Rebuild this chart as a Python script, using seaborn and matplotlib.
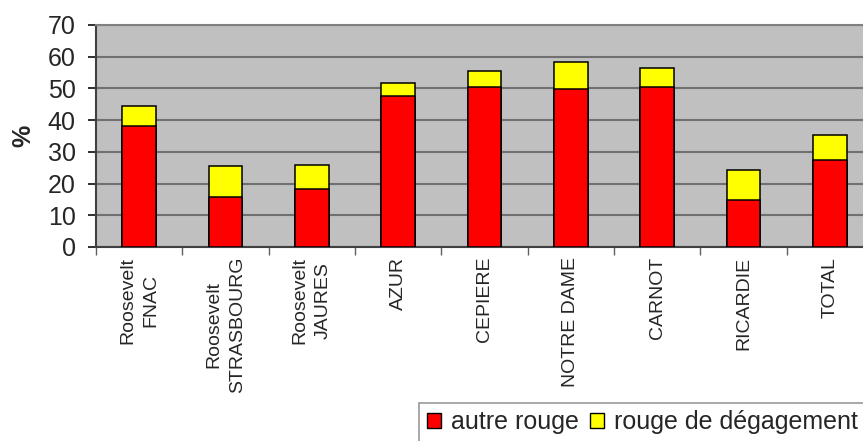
import matplotlib
matplotlib.use("Agg")
import matplotlib.pyplot as plt
import seaborn as sns
import pandas as pd
from matplotlib.patches import Patch
from matplotlib.ticker import FixedLocator, NullFormatter

# Sites surveyed and share of red-light crossings (%)
sites = ["Roosevelt\nFNAC", "Roosevelt\nSTRASBOURG", "Roosevelt\nJAURES", "AZUR",
         "CEPIERE", "NOTRE DAME", "CARNOT", "RICARDIE", "TOTAL"]
autre_rouge = [38.0, 15.9, 18.3, 47.7, 50.5, 49.8, 50.5, 14.8, 27.4]
rouge_degagement = [6.4, 9.7, 7.6, 4.0, 4.9, 8.6, 6.0, 9.5, 7.8]
y_ticks = [0, 10, 20, 30, 40, 50, 60, 70]

df = pd.DataFrame({
    "site": sites,
    "autre": autre_rouge,
    "total": [a + b for a, b in zip(autre_rouge, rouge_degagement)],
})

sns.set_theme(style="white")
plt.rcParams["font.family"] = ["Liberation Sans", "DejaVu Sans"]

fig = plt.figure(figsize=(8.63, 4.41), dpi=100)
ax = fig.add_axes([96 / 863, 194 / 441, 777 / 863, 222 / 441])
ax.set_facecolor("#c0c0c0")

red = "#ff0000"
yellow = "#ffff00"

# Stacked bars: full height in yellow, lower segment in red on top
sns.barplot(data=df, x="site", y="total", color=yellow, saturation=1,
            width=0.39, edgecolor="black", linewidth=1.1, ax=ax, zorder=3)
sns.barplot(data=df, x="site", y="autre", color=red, saturation=1,
            width=0.39, edgecolor="black", linewidth=1.1, ax=ax, zorder=4)

ax.set_xlim(-0.5, len(sites) - 0.5)
ax.set_ylim(0, 70)
ax.set_yticks(y_ticks)
ax.yaxis.grid(True, color="#707070", linewidth=1.5, zorder=1)
ax.set_axisbelow(True)

ax.set_xlabel("")
ax.set_ylabel("%", fontsize=18, fontweight="bold", labelpad=9)

ax.tick_params(axis="y", labelsize=18, length=6, width=1.3, color="#202020",
               pad=8.5, left=True)
ax.tick_params(axis="x", which="major", labelsize=14, length=0, pad=7)
ax.set_xticks(range(len(sites)))
ax.set_xticklabels(sites, rotation=90, ha="center", va="top",
                   multialignment="center", linespacing=1.5)
ax.xaxis.set_minor_locator(FixedLocator([i - 0.5 for i in range(len(sites) + 1)]))
ax.xaxis.set_minor_formatter(NullFormatter())
ax.tick_params(axis="x", which="minor", bottom=True, length=6, width=1.0, color="#606060")

for side in ["left", "bottom"]:
    ax.spines[side].set_visible(True)
    ax.spines[side].set_color("#404040")
    ax.spines[side].set_linewidth(1.5)
ax.spines["top"].set_visible(True)
ax.spines["top"].set_color("#808080")
ax.spines["top"].set_linewidth(1.5)
ax.spines["right"].set_visible(False)

handles = [Patch(facecolor=red, edgecolor="black", linewidth=1.0, label="autre rouge"),
           Patch(facecolor=yellow, edgecolor="black", linewidth=1.0, label="rouge de dégagement")]
leg = fig.legend(handles=handles, loc="upper left", bbox_to_anchor=(419 / 863, 1 - 403 / 441),
                 ncol=2, fontsize=18, frameon=True, fancybox=False, borderaxespad=0,
                 borderpad=0.3, handlelength=0.56, handleheight=0.56,
                 handletextpad=0.4, columnspacing=0.45)
leg.get_frame().set_edgecolor("#808080")
leg.get_frame().set_linewidth(1.2)

fig.savefig("out.png", dpi=100)
